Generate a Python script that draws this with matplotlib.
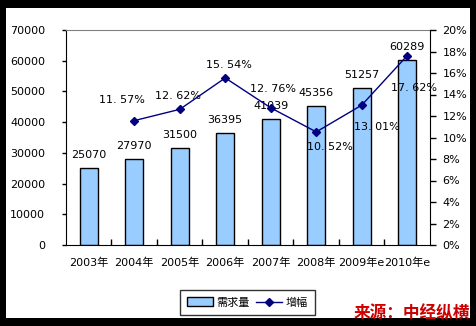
import matplotlib.pyplot as plt
import matplotlib.patches as mpatches
from matplotlib.ticker import FuncFormatter
import numpy as np

plt.rcParams['font.family'] = ['DejaVu Sans', 'Noto Sans CJK SC']
plt.rcParams['font.size'] = 8

years = ['2003年', '2004年', '2005年', '2006年', '2007年', '2008年', '2009年e', '2010年e']
demand = [25070, 27970, 31500, 36395, 41039, 45356, 51257, 60289]
growth = [11.57, 12.62, 15.54, 12.76, 10.52, 13.01, 17.62]   # 2004 onwards, %
growth_text = ['11. 57%', '12. 62%', '15. 54%', '12. 76%', '10. 52%', '13. 01%', '17. 62%']

# label nudges in pixels (dx, dy) for the growth labels
pct_off = [(-12, 21), (-2, 13), (4, 13), (2, 19), (14, -15), (15, -22), (7, -32)]

W, H = 477, 326
fig = plt.figure(figsize=(W / 100, H / 100), dpi=100)
fig.patch.set_facecolor('black')
# white card inside the black frame
fig.patches.append(mpatches.Rectangle((6 / W, 8 / H), (470 - 6) / W, (318 - 8) / H,
                                      transform=fig.transFigure, facecolor='white',
                                      edgecolor='none', zorder=-10))

ax = fig.add_axes([66 / W, (H - 245) / H, 364 / W, 215 / H])
ax.set_facecolor('white')
x = np.arange(len(years))
bars = ax.bar(x, demand, width=0.4, color='#99CCFF', edgecolor='black', linewidth=1,
              label='需求量', zorder=2)
ax.set_xlim(-0.5, len(years) - 0.5)
ax.set_ylim(0, 70000)
ax.set_yticks(np.arange(0, 70001, 10000))
ax.set_xticks(x)
ax.set_xticklabels(years)
ax.tick_params(axis='x', length=0, pad=9)
ax.set_xticks(np.arange(0.5, len(years) - 0.5, 1), minor=True)
ax.tick_params(axis='x', which='minor', direction='in', length=4, width=1)
ax.tick_params(axis='y', direction='out', length=3, width=1, pad=12)
ax.spines['top'].set_color('#808080')
ax.spines['right'].set_visible(False)

for xi, v in zip(x, demand):
    ax.annotate(str(v), (xi, v), xytext=(0, 13), textcoords='offset pixels',
                ha='center', va='center', zorder=5)

ax2 = ax.twinx()
ax2.set_ylim(0, 20)
ax2.set_yticks(np.arange(0, 21, 2))
ax2.yaxis.set_major_formatter(FuncFormatter(lambda v, p: f'{v:.0f}%'))
ax2.tick_params(axis='y', direction='out', length=4, width=1, pad=5)
ax2.spines['top'].set_visible(False)
ax2.spines['left'].set_visible(False)
ax2.spines['bottom'].set_visible(False)
line, = ax2.plot(x[1:], growth, color='#000080', linewidth=1, marker='D',
                 markersize=4.5, label='增幅', zorder=4)
for xi, v, t, (dx, dy) in zip(x[1:], growth, growth_text, pct_off):
    ax2.annotate(t, (xi, v), xytext=(dx, dy), textcoords='offset pixels',
                 ha='center', va='center')

leg = fig.legend(handles=[bars, line], labels=['需求量', '增幅'], ncol=2,
                 loc='center', bbox_to_anchor=(247.5 / W, (H - 302.5) / H),
                 frameon=True, fancybox=False, edgecolor='black',
                 handlelength=2.3, handleheight=0.8, handletextpad=0.3,
                 columnspacing=0.6, borderpad=0.65)
leg.get_frame().set_linewidth(1)

fig.text(470 / W, (H - 313) / H, '来源：中经纵横', color='#CC0000', fontsize=12,
         fontweight='bold', ha='right', va='center', family=['Noto Sans CJK SC'])

fig.savefig('out.png', dpi=100, facecolor=fig.get_facecolor())
